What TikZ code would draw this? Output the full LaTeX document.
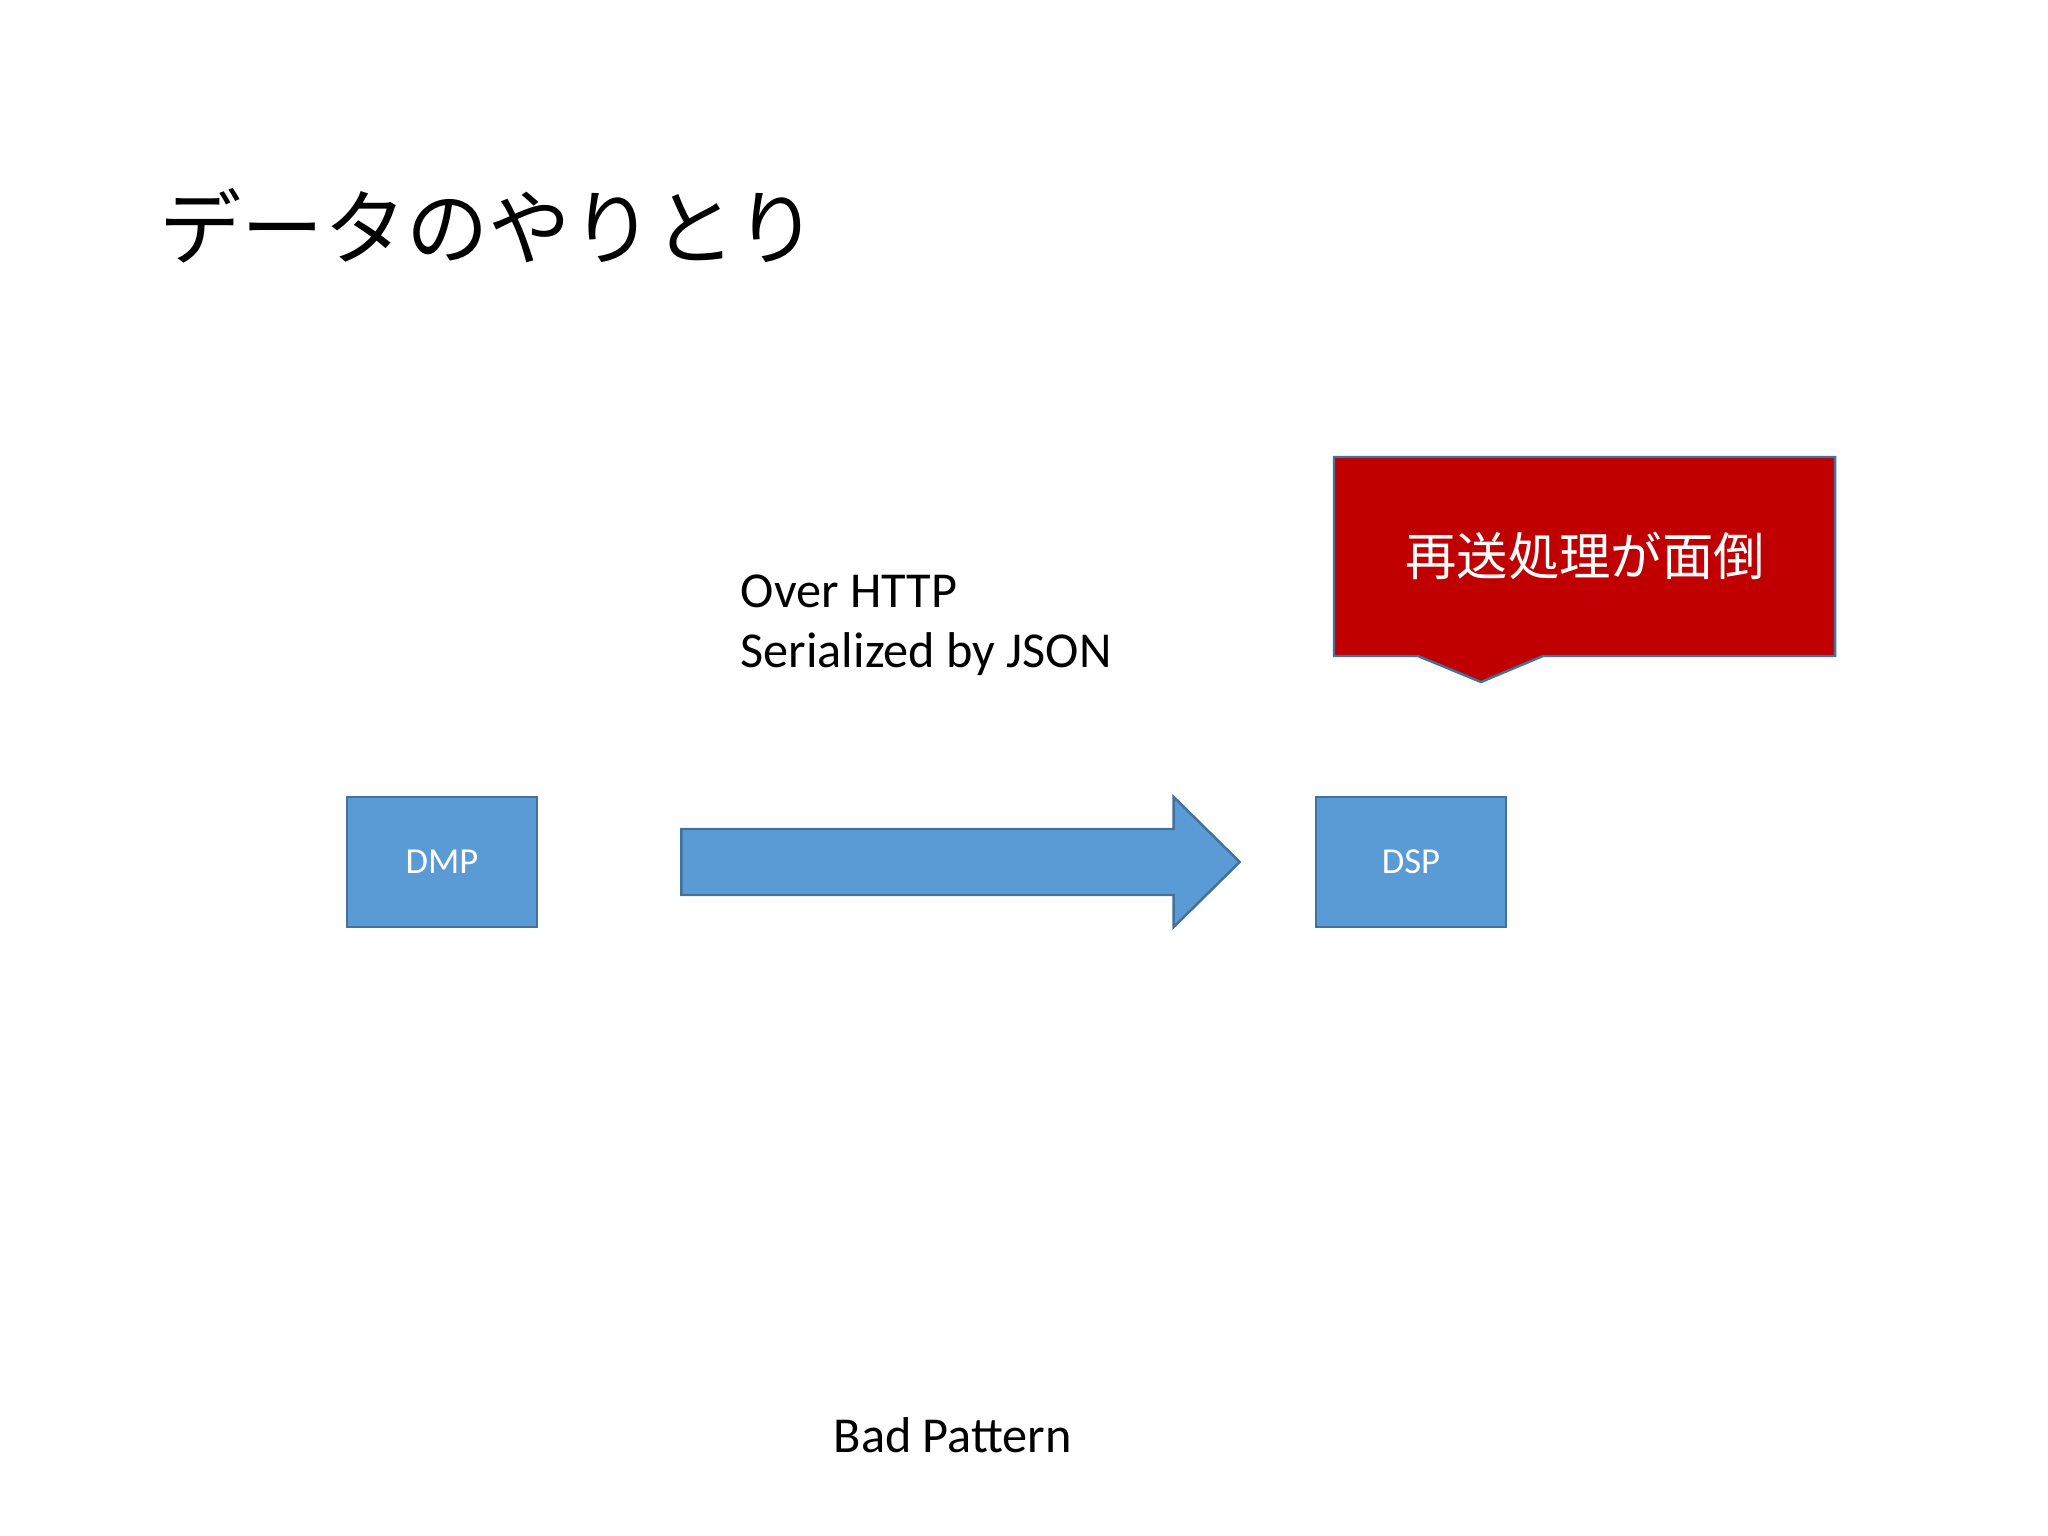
\documentclass[tikz,border=0pt]{standalone}
\usepackage{fontspec}
\setmainfont{Carlito}
\newfontfamily\jpfont{Noto Sans CJK JP}
\usepackage{tikz}
\usetikzlibrary{positioning}
\usetikzlibrary{calc}
\definecolor{boxblue}{HTML}{5B9BD5}
\definecolor{edgeblue}{HTML}{41719C}
\definecolor{alertred}{HTML}{C00000}

\begin{document}
\begin{tikzpicture}[x=0.01cm, y=-0.01cm,
    block/.style = {draw=edgeblue, fill=boxblue, line width=0.7pt, text=white,
        minimum width=1.9cm, minimum height=1.3cm, inner sep=0pt,
        font=\fontsize{10.4}{12}\selectfont},
    label/.style = {inner sep=0pt, font=\fontsize{14.3}{17}\selectfont}]
    \useasboundingbox[fill=white] (0,0) rectangle (2048,1536);

    \node[inner sep=0pt, anchor=base west, font=\jpfont\fontsize{23.4}{28}\selectfont] (title) at (159,258) {データのやりとり};

    \node[block] (dmp) at (442,862) {DMP};
    \node[block] (dsp) at (1411,862) {DSP};

    \coordinate (tail) at ($(dmp.east)+(143,0)$);
    \coordinate (tip) at ($(dsp.west)+(-75,0)$);
    \draw[draw=edgeblue, fill=boxblue, line width=0.7pt]
        ($(tail)+(0,-33)$) -- ($(tip)+(-66,-33)$) -- ($(tip)+(-66,-65)$) -- (tip)
        -- ($(tip)+(-66,65)$) -- ($(tip)+(-66,33)$) -- ($(tail)+(0,33)$) -- cycle;

    \node[label, anchor=base west] (http) at (740,607) {Over HTTP};
    \node[label, anchor=base west] (json) at (740,667) {Serialized by JSON};

    \draw[draw=edgeblue, fill=alertred, line width=0.7pt]
        (1334,457) -- (1835,457) -- (1835,656) -- (1543,656) -- (1481,682)
        -- (1418,656) -- (1334,656) -- cycle;
    \node[inner sep=0pt, text=white, font=\jpfont\fontsize{14.6}{18}\selectfont] (resend) at (1585,556) {再送処理が面倒};

    \node[label, anchor=base west] (bad) at (833,1452) {Bad Pattern};
\end{tikzpicture}
\end{document}
